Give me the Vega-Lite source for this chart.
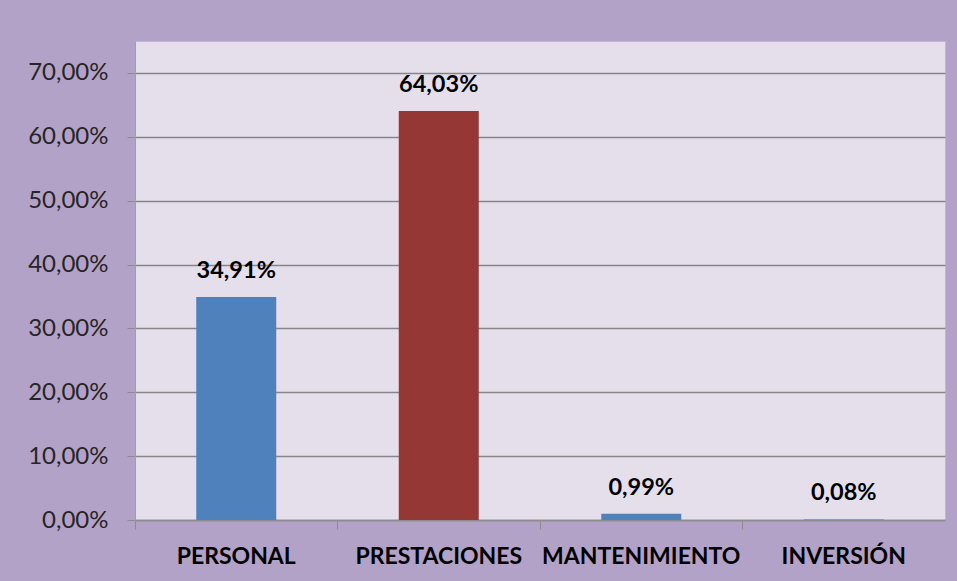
{
  "$schema": "https://vega.github.io/schema/vega-lite/v6.json",
  "width": 810,
  "height": 479,
  "autosize": {"type": "none"},
  "padding": {"left": 135, "top": 41, "right": 12, "bottom": 61},
  "background": "#b3a2c7",
  "config": {
    "locale": {"number": {"decimal": ",", "thousands": ".", "grouping": [3], "currency": ["", " €"]}},
    "view": {"fill": "#e5dfec", "stroke": "#c3b5d4", "strokeWidth": 1},
    "font": "Lato"
  },
  "data": {
    "values": [
      {"categoria": "PERSONAL", "valor": 0.3491, "serie": "a"},
      {"categoria": "PRESTACIONES", "valor": 0.6403, "serie": "b"},
      {"categoria": "MANTENIMIENTO", "valor": 0.0099, "serie": "a"},
      {"categoria": "INVERSIÓN", "valor": 0.0008, "serie": "a"}
    ]
  },
  "encoding": {
    "x": {
      "field": "categoria",
      "type": "nominal",
      "sort": null,
      "scale": {"paddingInner": 0, "paddingOuter": 0},
      "axis": {
        "title": null,
        "labelAngle": 0,
        "labelFont": "Lato",
        "labelFontSize": 23,
        "labelFontWeight": "bold",
        "labelColor": "#000000",
        "labelBaseline": "alphabetic",
        "labelPadding": 34,
        "labelLimit": 0,
        "tickSize": 9,
        "tickColor": "#8c8c8c",
        "tickWidth": 1,
        "bandPosition": 0,
        "domainColor": "#8c8c8c",
        "domainWidth": 1.5,
        "grid": false
      }
    },
    "y": {
      "field": "valor",
      "type": "quantitative",
      "scale": {"domain": [0, 0.75], "nice": false},
      "axis": {
        "title": null,
        "values": [0, 0.1, 0.2, 0.3, 0.4, 0.5, 0.6, 0.7],
        "format": ".2%",
        "labelFont": "Lato",
        "labelFontSize": 24,
        "labelColor": "#262626",
        "labelPadding": 19,
        "tickSize": 8,
        "tickColor": "#8c8c8c",
        "domainColor": "#a0a0a0",
        "domainWidth": 1,
        "grid": true,
        "gridColor": "#868686",
        "gridWidth": 1.5
      }
    }
  },
  "layer": [
    {
      "mark": {"type": "bar", "width": {"band": 0.395}},
      "encoding": {
        "color": {
          "field": "serie",
          "type": "nominal",
          "scale": {"domain": ["a", "b"], "range": ["#4f81bd", "#953735"]},
          "legend": null
        }
      }
    },
    {
      "mark": {"type": "text", "baseline": "alphabetic", "dy": -19, "font": "Lato", "fontSize": 23.5, "fontWeight": "bold", "color": "#000000"},
      "encoding": {
        "text": {"field": "valor", "type": "quantitative", "format": ".2%"}
      }
    }
  ]
}
